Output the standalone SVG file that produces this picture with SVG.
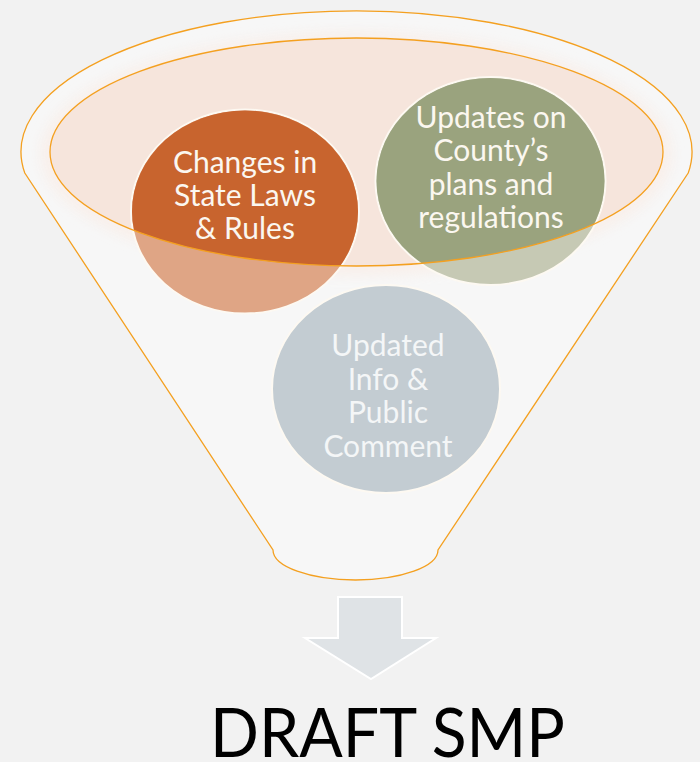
<svg xmlns="http://www.w3.org/2000/svg" width="700" height="762" viewBox="0 0 700 762">
  <defs>
    <style>
      .lbl { font-family: Lato, "Open Sans", "DejaVu Sans", sans-serif; font-size: 30px; fill: #fbf7f0; text-anchor: middle; }
      .lblg { font-family: Lato, "Open Sans", "DejaVu Sans", sans-serif; font-size: 30px; fill: #f4f6f7; text-anchor: middle; }
      .ring { stroke: #fdf9f2; stroke-width: 2; }
      .edge { fill: none; stroke: #f4a020; stroke-width: 1.3; }
    </style>
    <clipPath id="innerClip">
      <ellipse cx="356.5" cy="152" rx="306.5" ry="114"/>
    </clipPath>
    <clipPath id="funnelClip">
      <path d="M24.8,173 A335.5,141 0 1 1 688.2,173 L438,550 A82.5,30 0 0 1 273,550 Z"/>
    </clipPath>
    <filter id="blur" x="-20%" y="-20%" width="140%" height="140%">
      <feGaussianBlur stdDeviation="6"/>
    </filter>
  </defs>

  <rect x="0" y="0" width="700" height="762" fill="#f2f2f2"/>

  <g id="funnel">
    <path d="M24.8,173 A335.5,141 0 1 1 688.2,173 L438,550 A82.5,30 0 0 1 273,550 Z" fill="#f7f7f7"/>
    <g clip-path="url(#funnelClip)">
      <ellipse cx="356.5" cy="154" rx="316" ry="122" fill="#f9ece5" filter="url(#blur)" opacity="0.65"/>
    </g>
    <ellipse cx="356.5" cy="152" rx="306.5" ry="114" fill="#f6e5dc"/>
  </g>

  <g id="node-state-laws">
    <ellipse class="ring" cx="245" cy="211.5" rx="114" ry="102" fill="#dfa585"/>
    <ellipse cx="245" cy="211.5" rx="113" ry="101" fill="#c8642e" clip-path="url(#innerClip)"/>
    <text class="lbl" x="245" y="173">Changes in</text>
    <text class="lbl" x="245" y="206">State Laws</text>
    <text class="lbl" x="245" y="239">&amp; Rules</text>
  </g>

  <g id="node-county">
    <ellipse class="ring" cx="490.5" cy="181" rx="115" ry="104" fill="#c6c9b4"/>
    <ellipse cx="490.5" cy="181" rx="114" ry="103" fill="#9aa37e" clip-path="url(#innerClip)"/>
    <text class="lbl" x="491" y="128">Updates on</text>
    <text class="lbl" x="491" y="161">County’s</text>
    <text class="lbl" x="491" y="195">plans and</text>
    <text class="lbl" x="491" y="228">regulations</text>
  </g>

  <g id="node-public">
    <ellipse class="ring" cx="386" cy="389" rx="114" ry="104" fill="#c3ccd2"/>
    <text class="lblg" x="388" y="356">Updated</text>
    <text class="lblg" x="388" y="390">Info &amp;</text>
    <text class="lblg" x="388" y="423">Public</text>
    <text class="lblg" x="388" y="457">Comment</text>
  </g>

  <g id="funnel-edges">
    <ellipse class="edge" cx="356.5" cy="152" rx="306.5" ry="114"/>
    <path class="edge" d="M24.8,173 A335.5,141 0 1 1 688.2,173 L438,550 A82.5,30 0 0 1 273,550 Z"/>
  </g>

  <g id="connectors">
    <path d="M338,597 L402,597 L402,638 L436,638 L371,679 L305,638 L338,638 Z" fill="#dfe3e6" stroke="#ffffff" stroke-width="2" stroke-linejoin="miter"/>
  </g>

  <g id="node-draft">
    <text x="387.5" y="757" font-family="Lato, 'Open Sans', 'DejaVu Sans', sans-serif" font-size="67" fill="#000000" text-anchor="middle" textLength="355" lengthAdjust="spacingAndGlyphs">DRAFT SMP</text>
  </g>
</svg>
